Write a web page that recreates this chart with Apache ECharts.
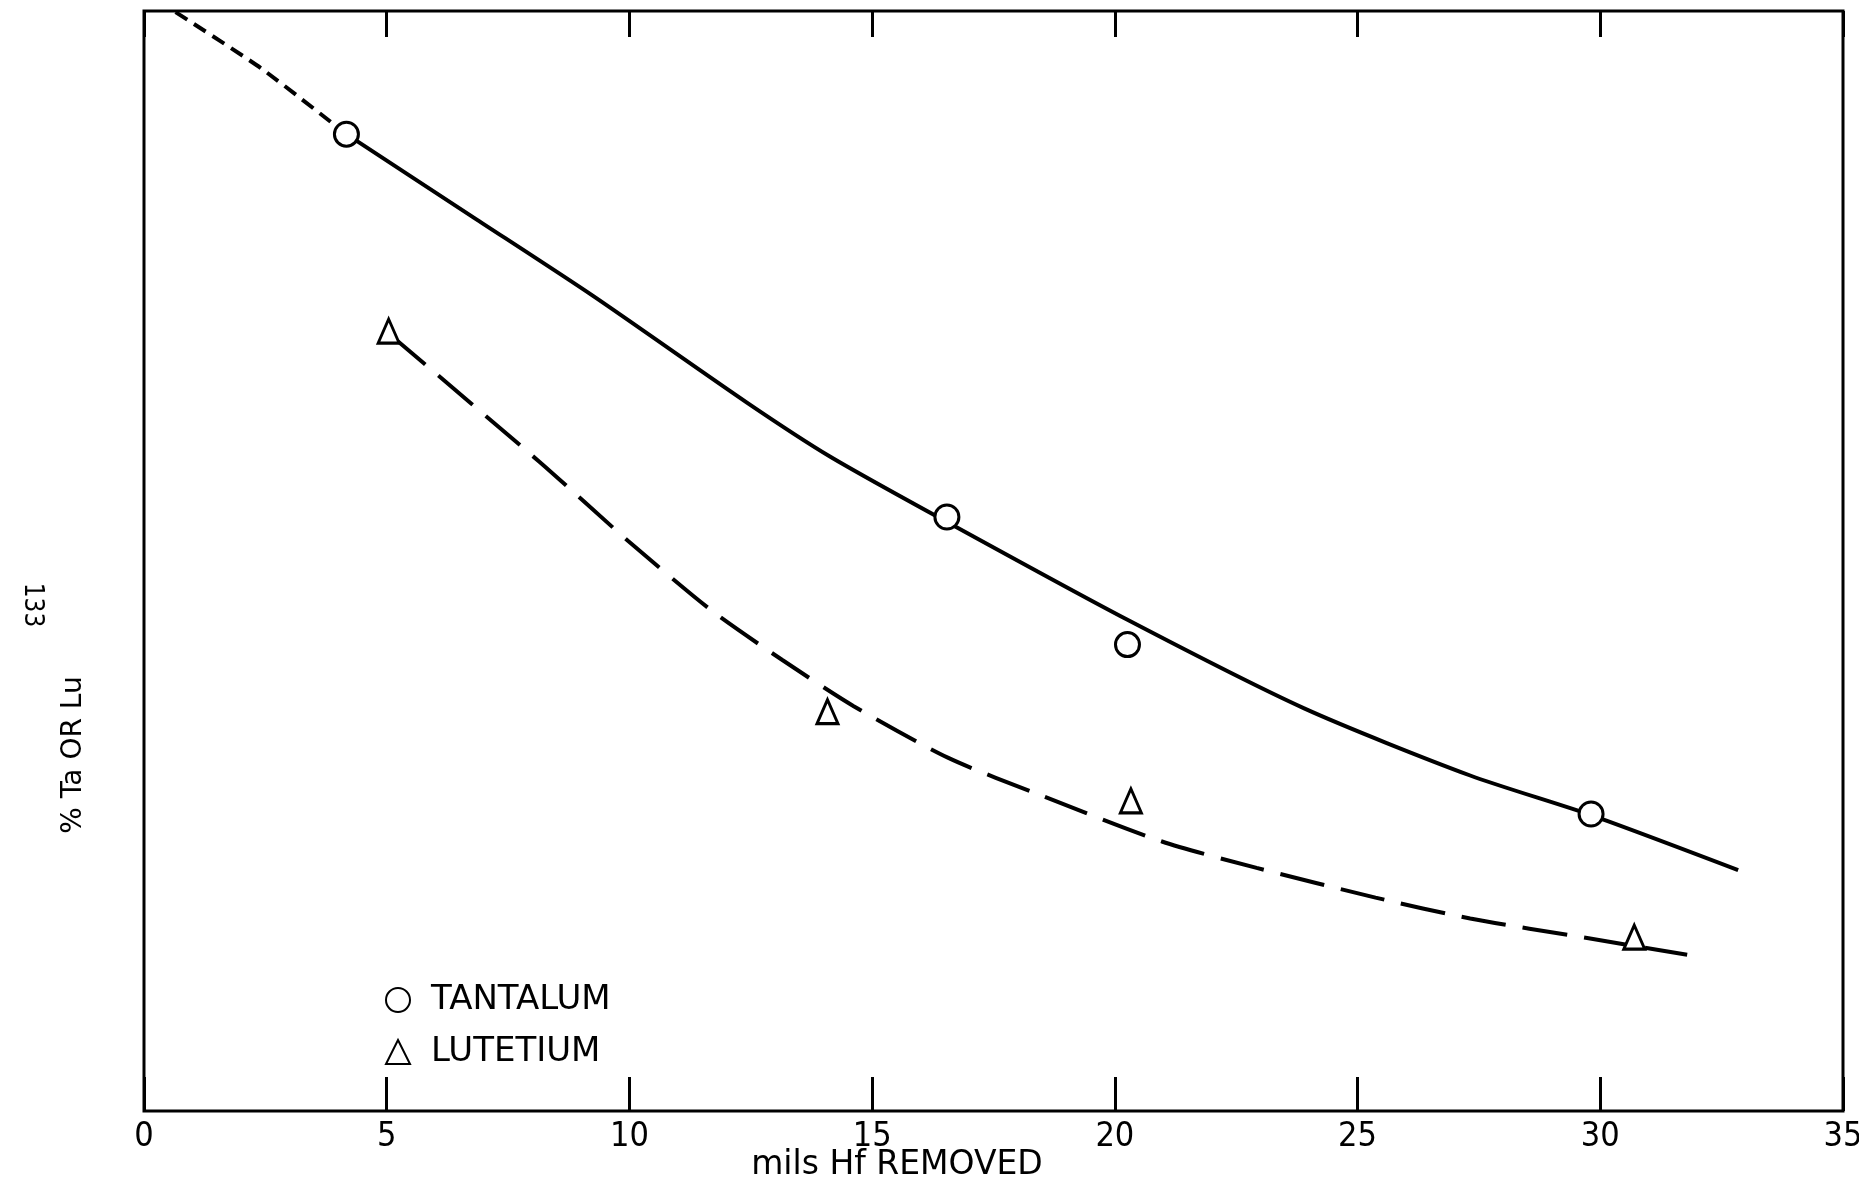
<!DOCTYPE html>
<html>
<head>
<meta charset="utf-8">
<script src="https://cdn.jsdelivr.net/npm/echarts@6/dist/echarts.min.js"></script>
<style>
html,body{margin:0;padding:0;background:#fff;}
#chart{width:1859px;height:1182px;}
</style>
</head>
<body>
<div id="chart"></div>
<script>
// x tick labels (mils Hf removed)
const xTicks = [0, 5, 10, 15, 20, 25, 30, 35];
// measured points (x = mils Hf removed, y = relative % on an unlabelled scale 0-100)
const tantalumPts = [[4.17, 88.8], [16.54, 54.0], [20.26, 42.4], [29.81, 27.0]];
const lutetiumPts = [[5.04, 70.9], [14.08, 36.3], [20.33, 28.2], [30.70, 15.8]];
// fitted curves
const tantalumExtrap = [[0.65, 99.9], [2.41, 94.8], [4.17, 88.8]];
const tantalumCurve = [[4.17, 88.8], [6.80, 81.2], [9.25, 74.1], [12.42, 64.4], [14.13, 59.5], [16.52, 53.6], [20.24, 44.7], [23.90, 36.6], [27.32, 30.5], [29.81, 26.9], [32.84, 21.9]];
const lutetiumCurve = [[5.09, 70.5], [8.15, 59.0], [9.98, 51.8], [11.69, 45.5], [13.15, 41.0], [14.62, 36.8], [16.57, 32.1], [18.53, 28.6], [20.97, 24.5], [22.92, 22.1], [25.37, 19.4], [27.32, 17.5], [29.76, 15.7], [31.79, 14.2]];

const chart = echarts.init(document.getElementById('chart'), null, {renderer: 'canvas'});
const ink = '#000';
const labelFont = '"Liberation Sans Narrow", "DejaVu Sans Condensed", sans-serif';
const textFont = '"DejaVu Sans", sans-serif';

chart.setOption({
  backgroundColor: '#fff',
  animation: false,
  grid: {left: 144, right: 16, top: 11, bottom: 71, outerBoundsMode: 'none', containLabel: false,
    show: true, borderColor: ink, borderWidth: 3, backgroundColor: 'transparent'},
  legend: {
    orient: 'vertical', left: 380, top: 978, itemGap: 18, itemWidth: 24, itemHeight: 24,
    data: ['TANTALUM', 'LUTETIUM'],
    textStyle: {fontFamily: textFont, fontSize: 34, color: ink, padding: [0, 0, 0, 16]}
  },
  xAxis: [
    {
      type: 'value', min: 0, max: 35, interval: 5, position: 'bottom',
      axisLine: {show: false}, splitLine: {show: false},
      axisTick: {show: true, inside: true, length: 34, lineStyle: {color: ink, width: 3}},
      axisLabel: {fontFamily: labelFont, fontSize: 34, color: ink, margin: 9,
        formatter: v => xTicks.includes(v) ? String(v) : ''}
    },
    {
      type: 'value', min: 0, max: 35, interval: 5, position: 'top',
      axisLine: {show: false}, splitLine: {show: false}, axisLabel: {show: false},
      axisTick: {show: true, inside: true, length: 26, lineStyle: {color: ink, width: 3}}
    }
  ],
  yAxis: {type: 'value', min: 0, max: 100, show: false},
  graphic: [
    {type: 'text', x: 897, y: 1165,
      style: {text: 'mils Hf REMOVED', fontFamily: textFont, fontSize: 33, fill: ink, align: 'center', verticalAlign: 'middle'}},
    {type: 'text', x: 74, y: 755, rotation: Math.PI / 2,
      style: {text: '% Ta OR Lu', fontFamily: textFont, fontSize: 28, fill: ink, align: 'center', verticalAlign: 'middle'}},
    {type: 'text', x: 32, y: 605, rotation: -Math.PI / 2,
      style: {text: '133', fontFamily: labelFont, fontSize: 26, fill: ink, align: 'center', verticalAlign: 'middle'}}
  ],
  series: [
    {type: 'line', data: tantalumExtrap, showSymbol: false, smooth: 0.2, silent: true,
      lineStyle: {color: ink, width: 4, type: [14, 8]}, z: 2},
    {type: 'line', data: tantalumCurve, showSymbol: false, smooth: 0.25, silent: true,
      lineStyle: {color: ink, width: 4}, z: 2},
    {type: 'line', data: lutetiumCurve, showSymbol: false, smooth: 0.25, silent: true,
      lineStyle: {color: ink, width: 4, type: [45, 17]}, z: 2},
    {name: 'TANTALUM', type: 'scatter', data: tantalumPts, symbol: 'circle', symbolSize: 24,
      itemStyle: {color: '#fff', borderColor: ink, borderWidth: 3, opacity: 1}, z: 5},
    {name: 'LUTETIUM', type: 'scatter', data: lutetiumPts, symbol: 'triangle', symbolSize: [21, 24],
      itemStyle: {color: '#fff', borderColor: ink, borderWidth: 3, opacity: 1}, z: 5}
  ]
});
</script>
</body>
</html>
